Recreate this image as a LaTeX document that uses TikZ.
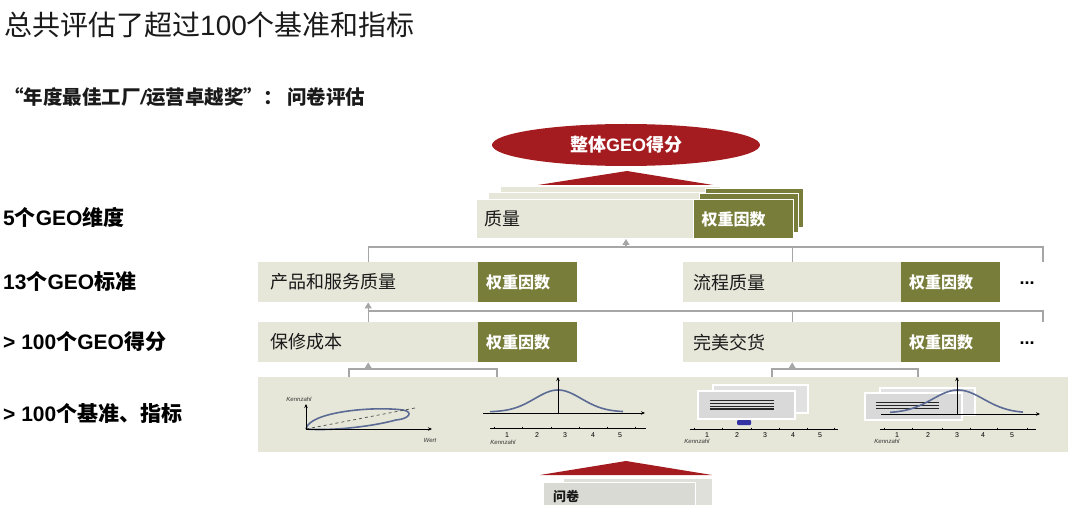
\documentclass[tikz,border=0pt]{standalone}
\usepackage{fontspec}
\setmainfont{Noto Sans CJK SC}
\newfontfamily\lat{Liberation Sans}
\usetikzlibrary{arrows.meta,shapes.geometric}
\definecolor{boxbg}{HTML}{E6E7D8}
\definecolor{olive}{HTML}{787D3A}
\definecolor{dred}{HTML}{A51C20}
\definecolor{connc}{HTML}{A6A6A6}
\definecolor{curvec}{HTML}{5B6B95}
\definecolor{pagec}{HTML}{D9D9D9}
\definecolor{qpagec}{HTML}{DADAD4}
\definecolor{txtc}{HTML}{1A1A1A}
\tikzset{
 lbox/.style={fill=boxbg, inner sep=0, minimum height=40},
 obox/.style={fill=olive, inner xsep=8pt, inner ysep=0, minimum height=40, text width=83pt, align=left, text=white, font=\fontsize{16}{18}\selectfont\bfseries},
 btxt/.style={anchor=west, inner sep=0, text=txtc, font=\fontsize{18}{20}\selectfont},
 side/.style={anchor=west, inner sep=0, text=black, font=\fontsize{21}{23}\selectfont\bfseries},
 dots/.style={inner sep=0, font=\lat\bfseries\fontsize{18}{20}\selectfont},
 cline/.style={draw=connc, line width=1.3},
 carr/.style={cline, -{Triangle[width=7pt,length=6pt]}},
 lpage/.style={fill=boxbg, draw=white, line width=1},
 opage/.style={fill=olive, draw=white, line width=1},
 page/.style={fill=pagec, draw=white, line width=1.2},
 curve/.style={draw=curvec, line width=1.6},
 ax/.style={draw=black, line width=0.9},
 axa/.style={ax, -{Stealth[length=4pt,width=3.5pt]}},
 tiny/.style={inner sep=0, font=\lat\itshape\fontsize{6}{7}\selectfont, text=black!80},
 num/.style={inner sep=0, font=\lat\fontsize{7}{8}\selectfont},
 hl/.style={draw=black!85, line width=1.2},
}
\begin{document}
\begin{tikzpicture}[x=1pt,y=-1pt]
\useasboundingbox (0,0) rectangle (1080,505);

% titles
\node[anchor=west, inner sep=0, text=txtc, font=\fontsize{28}{30}\selectfont] (title) at (4,25) {总共评估了超过{\lat 100}个基准和指标};
\node[anchor=west, inner sep=0, text=txtc, font=\fontsize{19.5}{22}\selectfont\bfseries] (sub) at (4,97) {“年度最佳工厂{\lat\itshape /}运营卓越奖”： 问卷评估};

% side labels
\node[side] (s1) at (3,217) {{\lat 5}个{\lat GEO}维度};
\node[side] (s2) at (3,282) {{\lat 13}个{\lat GEO}标准};
\node[side] (s3) at (3,342) {{\lat > 100}个{\lat GEO}得分};
\node[side] (s4) at (3,414) {{\lat > 100}个基准、指标};

% top ellipse + triangle
\node[ellipse, fill=dred, minimum width=268, minimum height=42, inner sep=0, text=white, font=\fontsize{18}{20}\selectfont\bfseries] (geo) at (626,145) {整体{\lat GEO}得分};
\fill[dred] (538,185) -- (627,171) -- (713,185) -- cycle;

% quality stack
\path[lpage] (500,187) rectangle (720,226);
\path[lpage] (488,193) rectangle (708,232);
\node[lbox, draw=white, line width=1, minimum width=217, minimum height=39, anchor=north west] (ql) at (476,199) {};
\path[opage] (705,189) rectangle (803,228);
\path[opage] (699,194) rectangle (798,233);
\node[obox, draw=white, line width=1, minimum height=39, text width=84pt, anchor=north west] (qw) at (693,199) {权重因数};
\node[btxt] (qlt) at ([xshift=8]ql.west) {质量};

% row 2
\node[lbox, minimum width=220, anchor=north west] (pq) at (258,262) {};
\node[btxt] (pqt) at ([xshift=12]pq.west) {产品和服务质量};
\node[obox, anchor=north west] (pqw) at (478,262) {权重因数};
\node[lbox, minimum width=218, anchor=north west] (pr) at (683,262) {};
\node[btxt] (prt) at ([xshift=10]pr.west) {流程质量};
\node[obox, anchor=north west] (prw) at (901,262) {权重因数};
\node[dots] (d1) at (1027,283) {...};

% row 3
\node[lbox, minimum width=220, anchor=north west] (sq) at (258,322) {};
\node[btxt] (sqt) at ([xshift=12]sq.west) {保修成本};
\node[obox, anchor=north west] (sqw) at (478,322) {权重因数};
\node[lbox, minimum width=218, anchor=north west] (sr) at (683,322) {};
\node[btxt] (srt) at ([xshift=10]sr.west) {完美交货};
\node[obox, anchor=north west] (srw) at (901,322) {权重因数};
\node[dots] (d2) at (1027,343) {...};

% connectors level 1
\coordinate (h1r) at (1043,247);
\coordinate (h1re) at (1043,262);
\draw[cline] (pq.north) |- (h1r) -- (h1re);
\draw[cline] (pr.north) -- (pr.north |- h1r);
\coordinate (a1) at (626,247);
\draw[carr] (a1) -- (a1 |- ql.south);

% connectors level 2
\coordinate (h2r) at (1043,311);
\coordinate (h2re) at (1043,322);
\draw[carr] (sq.north) -- (pq.south);
\draw[cline] (sq.north |- h2r) -- (h2r) -- (h2re);
\draw[cline] (sr.north) -- (sr.north |- h2r);

% bottom panel
\node[fill=boxbg, inner sep=0, minimum width=810, minimum height=75, anchor=north west] (panel) at (258,377) {};

% brackets
\coordinate (b1l) at (349,377);
\coordinate (b1r) at (497,377);
\coordinate (b1t) at (369,369);
\draw[cline] (b1l) -- ++(0,-8) -| (b1r);
\draw[carr] (sq.south |- b1t) -- (sq.south);
\coordinate (b2l) at (772,377);
\coordinate (b2r) at (918,377);
\draw[cline] (b2l) -- ++(0,-8) -| (b2r);
\draw[carr] (sr.south |- b1t) -- (sr.south);

% chart 1
\draw[curve] (306,429) .. controls (309,412) and (372,406) .. (403,410) .. controls (414,412) and (409,419) .. (396,420) .. controls (370,427) and (330,431) .. (306,429);
\draw[black!70, dashed, line width=0.7] (306,429) -- (415,408);
\draw[axa] (306,429) -- (306,404);
\draw[axa] (306,429) -- (432,429);
\node[tiny] (k1) at (299,399) {Kennzahl};
\node[tiny] (w1) at (430,440) {Wert};

% chart 2
\draw[curve] plot[domain=490:623, samples=70] (\x, {412-22*exp(-(((\x-558)/33)^2))});
\draw[axa] (483,413) -- (645,413);
\draw[axa] (558,414) -- (558,377);
\draw[ax] (490,428) -- (646,428);
\foreach \t in {494,522,551,579,607,635} \draw[ax] (\t,426.5) -- (\t,428);
\foreach \n/\p in {1/507,2/537,3/565,4/593,5/620} \node[num] (c2n\n) at (\p,435) {\n};
\node[tiny] (k2) at (503,442) {Kennzahl};

% chart 3
\path[page, fill=pagec!80] (713,385) rectangle (808,413);
\path[page] (698,391) rectangle (795,419);
\foreach \yy in {400.7,403.4,406.1,409} \draw[hl] (710,\yy) -- (774,\yy);
\fill[blue!55!black!80, rounded corners=1] (737,420) rectangle (751,425);
\draw[ax] (690,429) -- (838,429);
\foreach \t in {694,722,751,779,807,834} \draw[ax] (\t,427.5) -- (\t,429);
\foreach \n/\p in {1/707,2/737,3/765,4/793,5/820} \node[num] (c3n\n) at (\p,435) {\n};
\node[tiny] (k3) at (697,441) {Kennzahl};

% chart 4
\path[page, fill=pagec!80] (880,388) rectangle (975,415);
\path[page] (865,393) rectangle (962,420);
\foreach \yy in {402.5,405.5,408.5} \draw[hl] (876,\yy) -- (939,\yy);
\draw[curve] plot[domain=890:1023, samples=70] (\x, {413-23*exp(-(((\x-958)/36)^2))});
\draw[axa] (881,414) -- (1040,414);
\draw[axa] (957,414) -- (957,377);
\draw[ax] (880,429) -- (1036,429);
\foreach \t in {884,912,942,970,997,1027} \draw[ax] (\t,427.5) -- (\t,429);
\foreach \n/\p in {1/897,2/928,3/957,4/983,5/1012} \node[num] (c4n\n) at (\p,435) {\n};
\node[tiny] (k4) at (887,441) {Kennzahl};

% bottom triangle and questionnaire
\fill[dred] (540,475) -- (626,461) -- (712,475) -- cycle;
\path[fill=qpagec!85, draw=white, line width=1] (563,478) rectangle (712,506);
\node[fill=qpagec, draw=white, line width=1, inner sep=0, minimum width=152, minimum height=24, anchor=north west] (qb) at (543,482) {};
\node[inner sep=0, anchor=west, text=txtc, font=\fontsize{13}{15}\selectfont\bfseries] (qbt) at (553,497) {问卷};
\end{tikzpicture}
\end{document}
